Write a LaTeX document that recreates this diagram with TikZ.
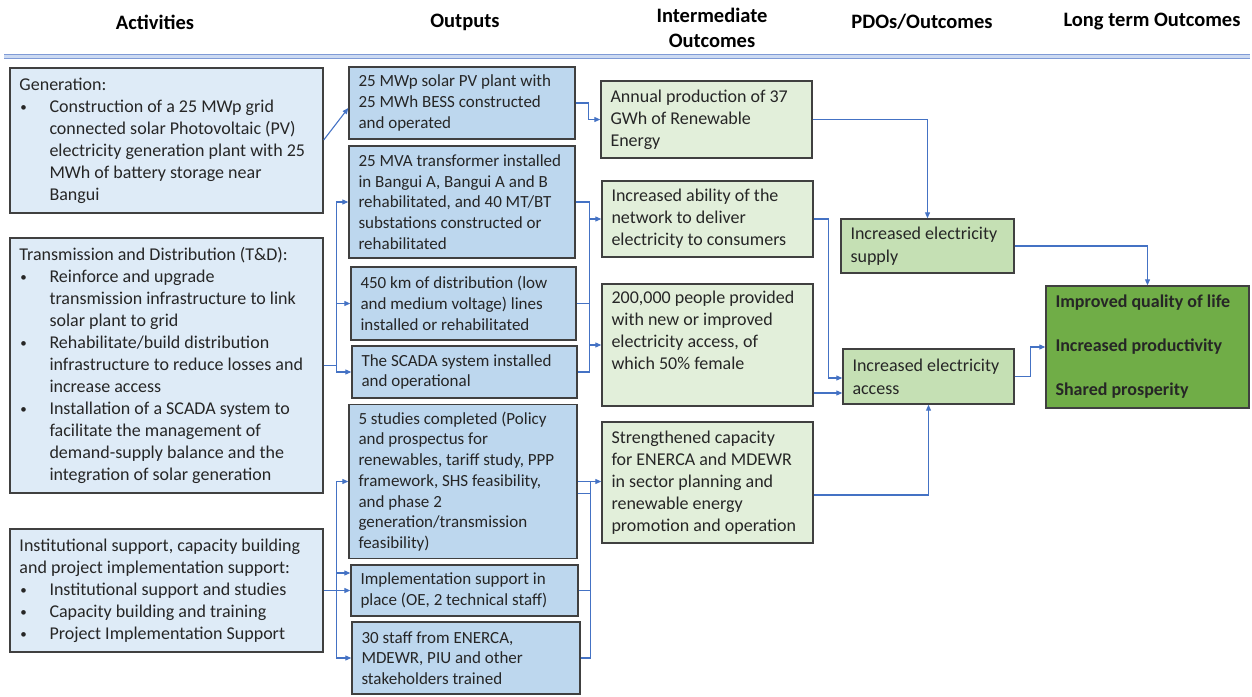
\documentclass[tikz,border=0pt]{standalone}
\usepackage{fontspec}
\setmainfont{Carlito}
\usetikzlibrary{arrows.meta,calc}
\definecolor{actf}{HTML}{DEEBF7}
\definecolor{outf}{HTML}{BDD7EE}
\definecolor{intf}{HTML}{E2EFDA}
\definecolor{pdof}{HTML}{C5E0B4}
\definecolor{ltof}{HTML}{70AD47}
\definecolor{bord}{HTML}{404040}
\definecolor{conc}{HTML}{4472C4}
\definecolor{hdrl}{HTML}{7F9BD6}
\definecolor{hdrb}{HTML}{CCDAF2}
\definecolor{txtc}{HTML}{262626}
\newcommand\mybox[8]{%
  \node[#2,minimum width=#6pt,minimum height=#7pt] (#1) at (#4,#5) {};
  \node[txt,anchor=west,font=#3] at ([xshift=10pt]#1.west) {#8};}
\newcommand\bl{\makebox[30pt][l]{\hspace*{1pt}\raisebox{1pt}{\fontsize{13}{13}\selectfont\textbullet}}}
\newcommand\ind{\hspace*{30pt}}
\newcommand\fact{\fontsize{18}{22}\selectfont}
\newcommand\fout{\fontsize{17}{20.7}\selectfont}
\newcommand\fint{\fontsize{18}{22}\selectfont}
\newcommand\fpdo{\fontsize{18}{23}\selectfont}
\newcommand\flto{\fontsize{18}{44}\selectfont\bfseries}
\begin{document}
\begin{tikzpicture}[x=1pt,y=-1pt,
  basebox/.style={draw=bord,line width=1.4pt,rectangle,inner sep=0pt},
  actbox/.style={basebox,fill=actf},
  outbox/.style={basebox,fill=outf},
  intbox/.style={basebox,fill=intf},
  pdobox/.style={basebox,fill=pdof},
  ltobox/.style={basebox,fill=ltof},
  txt/.style={align=left,inner sep=0pt,text=txtc},
  hdr/.style={font=\fontsize{20.5}{25}\selectfont\bfseries,text=black,align=center,inner sep=0pt},
  conn/.style={draw=conc,line width=1.1pt},
  arr/.style={conn,-{Triangle[length=6pt,width=5pt]}}]
\useasboundingbox (0,0) rectangle (1252,696);
% headers
\node[hdr] (h1) at (155,22) {Activities};
\node[hdr] (h2) at (465,22) {Outputs};
\node[hdr] (h3) at (712,28) {Intermediate\\Outcomes};
\node[hdr] (h4) at (922,22) {PDOs/Outcomes};
\node[hdr] (h5) at (1152,22) {Long term Outcomes};
\coordinate (hl1) at (4,54.5);
\coordinate (hr1) at (1250,54.5);
\coordinate (hl2) at (4,58.5);
\coordinate (hr2) at (1250,58.5);
\fill[hdrb] (hl1) rectangle (hr2);
\draw[hdrl,line width=1.3pt] (hl1) -- (hr1);
\draw[hdrl,line width=1.3pt] (hl2) -- (hr2);
% activities
\mybox{A1}{actbox}{\fact}{166.5}{140.5}{313}{145}{Generation:\\\bl Construction of a 25 MWp grid\\\ind connected solar Photovoltaic (PV)\\\ind electricity generation plant with 25\\\ind MWh of battery storage near\\\ind Bangui}
\mybox{A2}{actbox}{\fact}{166.5}{365.5}{313}{255}{Transmission and Distribution (T\&D):\\\bl Reinforce and upgrade\\\ind transmission infrastructure to link\\\ind solar plant to grid\\\bl Rehabilitate/build distribution\\\ind infrastructure to reduce losses and\\\ind increase access\\\bl Installation of a SCADA system to\\\ind facilitate the management of\\\ind demand-supply balance and the\\\ind integration of solar generation}
\mybox{A3}{actbox}{\fact}{166.5}{590.5}{313}{123}{Institutional support, capacity building\\and project implementation support:\\\bl Institutional support and studies\\\bl Capacity building and training\\\bl Project Implementation Support}
% outputs
\mybox{O1}{outbox}{\fout}{462}{103}{226}{72}{25 MWp solar PV plant with\\25 MWh BESS constructed\\and operated}
\mybox{O2}{outbox}{\fout}{462}{202}{226}{112}{25 MVA transformer installed\\in Bangui A, Bangui A and B\\rehabilitated, and 40 MT/BT\\substations constructed or\\rehabilitated}
\mybox{O3}{outbox}{\fout}{463.5}{303.5}{225}{73}{450 km of distribution (low\\and medium voltage) lines\\installed or rehabilitated}
\mybox{O4}{outbox}{\fout}{464.5}{372}{225}{52}{The SCADA system installed\\and operational}
\mybox{O5}{outbox}{\fout}{463}{481.5}{228}{154}{5 studies completed (Policy\\and prospectus for\\renewables, tariff study, PPP\\framework, SHS feasibility,\\and phase 2\\generation/transmission\\feasibility)}
\mybox{O6}{outbox}{\fout}{464.5}{590.5}{227}{51}{Implementation support in\\place (OE, 2 technical staff)}
\mybox{O7}{outbox}{\fout}{466}{658}{228}{72}{30 staff from ENERCA,\\MDEWR, PIU and other\\stakeholders trained}
% intermediate
\mybox{I1}{intbox}{\fint}{706.5}{119.5}{211}{77}{Annual production of 37\\GWh of Renewable\\Energy}
\mybox{I2}{intbox}{\fint}{707.5}{219}{211}{76}{Increased ability of the\\network to deliver\\electricity to consumers}
\mybox{I3}{intbox}{\fint}{707.5}{345}{211}{122}{200,000 people provided\\with new or improved\\electricity access, of\\which 50\% female\\\strut}
\mybox{I4}{intbox}{\fint}{707.5}{482.5}{211}{121}{Strengthened capacity\\for ENERCA and MDEWR\\in sector planning and\\renewable energy\\promotion and operation}
% PDOs
\mybox{P1}{pdobox}{\fpdo}{927.5}{246}{173}{54}{Increased electricity\\supply}
\mybox{P2}{pdobox}{\fpdo}{928.5}{376.5}{171}{55}{Increased electricity\\access}
% long term
\mybox{L}{ltobox}{\flto}{1147.5}{347}{203}{122}{Improved quality of life\\Increased productivity\\Shared prosperity}
% activities -> outputs
\draw[arr] ([yshift=0.5pt]A1.east) -- ([yshift=-5pt]O1.west);
\draw[conn] (A2.east) -- ++(13,0) coordinate (t1);
\draw[arr] (t1) |- (O2.west);
\draw[arr] (t1) |- (O3.west);
\draw[arr] (t1) |- (O4.west);
\draw[arr] (A3.east) -- (O6.west);
\coordinate (s1) at ($(A3.east)+(13,0)$);
\draw[arr] (s1) |- (O5.west);
\draw[arr] (s1) |- ([yshift=17.5pt]O6.west);
\draw[arr] (s1) |- (O7.west);
% outputs -> intermediate
\draw[arr] (O1.east) -- ++(13,0) |- (I1.west);
\draw[conn] (O2.east) -- ++(14,0) coordinate (v1) -- (v1 |- O4.east) -- (O4.east);
\draw[conn] (O3.east) -- (v1 |- O3.east);
\draw[arr] (v1 |- I2.west) -- (I2.west);
\draw[arr] (v1 |- I3.west) -- (I3.west);
\draw[arr] (O5.east) -- (I4.west |- O5.east);
\draw[conn] ([yshift=-12pt]O5.east) -- ++(13,0) coordinate (v2);
\draw[conn] (v2 |- O5.east) -- (v2 |- O7.east) -- (O7.east);
\draw[conn] (O6.east) -- (v2 |- O6.east);
% intermediate -> PDO
\draw[arr] (I1.east) -| (P1.north);
\draw[arr] (I2.east) -- ++(15,0) |- ([yshift=-1.5pt]P2.west);
\draw[arr] ([yshift=-48pt]I3.east) coordinate (i3o) -- (i3o -| P2.west);
\draw[arr] ([yshift=-12.5pt]I4.east) -| (P2.south);
% PDO -> long term
\draw[arr] (P1.east) -| (L.north);
\draw[arr] (P2.east) -- ++(16,0) |- (L.west);
\end{tikzpicture}
\end{document}
